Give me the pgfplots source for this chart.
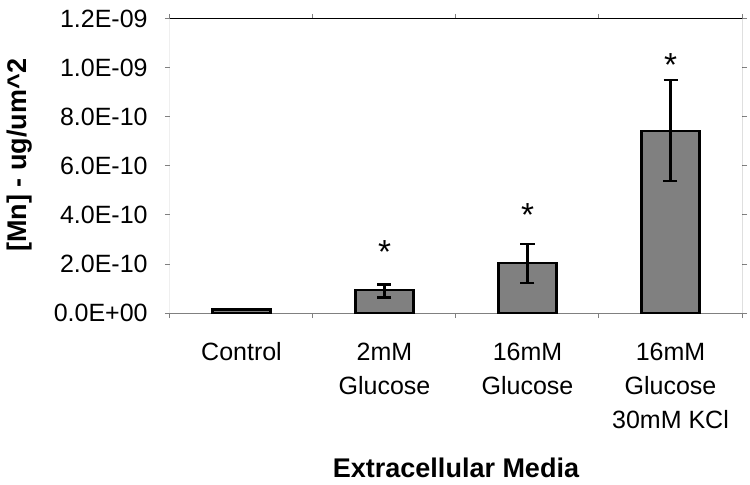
\documentclass[border=0pt]{standalone}
\usepackage{pgfplots}
\pgfplotsset{compat=1.18}
\usepackage{fontspec}
\setmainfont{Liberation Sans}
\definecolor{barfill}{RGB}{128,128,128}
\definecolor{axisgray}{RGB}{128,128,128}
\begin{document}
\begin{tikzpicture}
% page = 750x485 px at 0.75pt per px
\path[use as bounding box] (-127.5pt,-129pt) rectangle (435pt,234.75pt);
\begin{axis}[
  at={(0,0)}, anchor=south west,
  scale only axis, width=429pt, height=220.5pt,
  xmin=-0.5, xmax=3.5, ymin=0, ymax=1.2e-9,
  scaled y ticks=false,
  axis line style={draw=none},
  xtick={0,1,2,3},
  xticklabels={Control, 2mM\\Glucose, 16mM\\Glucose, 16mM\\Glucose\\30mM KCl},
  xticklabel style={align=center, font=\fontsize{18.75}{25.5}\selectfont, anchor=north, yshift=-15pt},
  major x tick style={draw=none},
  minor xtick={-0.5,0.5,1.5,2.5,3.5},
  ytick={0,2e-10,4e-10,6e-10,8e-10,1e-9,1.2e-9},
  yticklabels={0.0E+00,2.0E-10,4.0E-10,6.0E-10,8.0E-10,1.0E-09,1.2E-09},
  yticklabel style={font=\fontsize{18.75}{22}\selectfont, xshift=-9.5pt},
  tick align=outside, major tick length=3.75pt, minor tick length=3.75pt,
  tick style={axisgray, line width=0.75pt},
  xlabel={\bfseries Extracellular Media},
  xlabel style={at={(axis description cs:0.5,0)}, anchor=base, yshift=-123pt, font=\fontsize{20.25}{24}\selectfont},
  ylabel={\bfseries [Mn] - ug/um\textasciicircum 2},
  ylabel style={at={(axis description cs:-0.2622,0.537)}, anchor=center, font=\fontsize{20.25}{24}\selectfont},
]
\draw[axisgray, line width=0.75pt] (rel axis cs:0,1) -- (rel axis cs:0,0) -- (rel axis cs:1,0);
\draw[black, line width=0.75pt] (rel axis cs:0,1) -- (rel axis cs:1,1) -- (rel axis cs:1,0);

\addplot[ybar, bar width=43.5pt, fill=barfill, draw=black, line width=1.8pt,
  error bars/.cd, y dir=both, y explicit,
  error bar style={line width=1.8pt, black},
  error mark options={rotate=90, mark size=5.25pt, line width=1.8pt, black}]
  coordinates {
  (0,1.5e-11)
  (1,9.4e-11) += (0,2.3e-11) -= (0,3.0e-11)
  (2,2.04e-10) += (0,7.8e-11) -= (0,8.2e-11)
  (3,7.43e-10) += (0,2.08e-10) -= (0,2.04e-10)
  };

% significance markers
\addplot[draw=none, mark=none, nodes near coords={*},
  every node near coord/.append style={anchor=center, yshift=-5.5pt, font=\fontsize{25}{26}\selectfont}]
  coordinates {(1,2.78e-10) (2,4.29e-10) (3,1.04e-9)};
\end{axis}
\end{tikzpicture}
\end{document}
